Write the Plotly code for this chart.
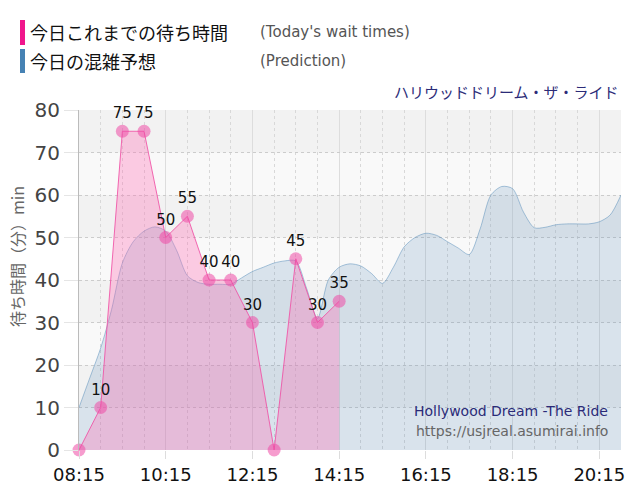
import plotly.graph_objects as go

DAY = "2024-01-01 "

# Actual wait times (every 30 min)
actual_times = ["08:15", "08:45", "09:15", "09:45", "10:15", "10:45", "11:15",
                "11:45", "12:15", "12:45", "13:15", "13:45", "14:15"]
actual_values = [0, 10, 75, 75, 50, 55, 40, 40, 30, 0, 45, 30, 35]

# Prediction (every 15 min)
pred_times = ["08:15", "08:30", "08:45", "09:00", "09:15", "09:30", "09:45", "10:00",
              "10:15", "10:30", "10:45", "11:00", "11:15", "11:30", "11:45", "12:00",
              "12:15", "12:30", "12:45", "13:00", "13:15", "13:30", "13:45", "14:00",
              "14:15", "14:30", "14:45", "15:00", "15:15", "15:30", "15:45", "16:00",
              "16:15", "16:30", "16:45", "17:00", "17:15", "17:30", "17:45", "18:00",
              "18:15", "18:30", "18:45", "19:00", "19:15", "19:30", "19:45", "20:00",
              "20:15", "20:30", "20:45"]
pred_values = [10, 17, 24, 33, 44, 49, 51.5, 52.5,
               51.5, 47, 41, 39.4, 39, 39, 39, 40.5,
               42, 43, 44, 44.5, 44.5, 38, 31, 40,
               43, 43.8, 43.3, 41.5, 39.2, 43, 47.8, 50,
               51, 50.5, 49, 47.5, 46, 52, 60, 62,
               61.5, 56, 52.3, 52.4, 53, 53.2, 53.2, 53.2,
               53.7, 55.3, 60]

x_tick_labels = ["08:15", "10:15", "12:15", "14:15", "16:15", "18:15", "20:15"]
y_ticks = [0, 10, 20, 30, 40, 50, 60, 70, 80]

legend_jp = ["今日これまでの待ち時間", "今日の混雑予想"]
legend_en = ["(Today's wait times)", "(Prediction)"]
title_text = "ハリウッドドリーム・ザ・ライド"
watermark = ["Hollywood Dream -The Ride", "https://usjreal.asumirai.info"]
y_title = "待ち時間（分）min"

JP = "Noto Sans CJK JP"
LAT = "DejaVu Sans"

# plot area in pixels
L, R, T, B = 79, 621, 110, 450
def px(x):
    return (x - L) / (R - L)
def py(y):
    return (B - y) / (B - T)

fig = go.Figure()

fig.add_trace(go.Scatter(
    x=[DAY + t for t in pred_times], y=pred_values,
    mode="lines", line=dict(color="rgba(70,130,180,0.45)", width=1, shape="spline", smoothing=0.8),
    fill="tozeroy", fillcolor="rgba(70,130,180,0.18)", hoverinfo="skip", showlegend=False))

fig.add_trace(go.Scatter(
    x=[DAY + t for t in actual_times], y=actual_values,
    mode="lines+markers+text", text=[str(v) if v > 0 else "" for v in actual_values],
    textposition="top center", textfont=dict(family=LAT, size=15, color="#111"),
    line=dict(color="rgba(240,80,165,0.85)", width=1),
    marker=dict(size=13, color="rgba(238,75,165,0.55)"),
    fill="tozeroy", fillcolor="rgba(255,105,180,0.33)", cliponaxis=False, showlegend=False))

shapes = []
# alternating horizontal bands
for lo in [10, 30, 50, 70]:
    shapes.append(dict(type="rect", xref="paper", yref="y", x0=0, x1=1, y0=lo, y1=lo + 10,
                       fillcolor="#f2f2f2", line=dict(width=0), layer="below"))
# legend bars
shapes.append(dict(type="rect", xref="paper", yref="paper", x0=px(20), x1=px(25), y0=py(45), y1=py(20),
                   fillcolor="#f0168c", line=dict(width=0)))
shapes.append(dict(type="rect", xref="paper", yref="paper", x0=px(20), x1=px(25), y0=py(73), y1=py(49),
                   fillcolor="#4682b4", line=dict(width=0)))

annotations = []
for i, (jp, en) in enumerate(zip(legend_jp, legend_en)):
    yc = 32 + i * 29
    annotations.append(dict(text=jp, xref="paper", yref="paper", x=px(28), y=py(yc),
                            xanchor="left", yanchor="middle", showarrow=False,
                            font=dict(family=JP, size=18, color="#111")))
    annotations.append(dict(text=en, xref="paper", yref="paper", x=px(258), y=py(yc),
                            xanchor="left", yanchor="middle", showarrow=False,
                            font=dict(family=LAT, size=15, color="#555")))
annotations.append(dict(text=title_text, xref="paper", yref="paper", x=px(621), y=py(91),
                        xanchor="right", yanchor="middle", showarrow=False,
                        font=dict(family=JP, size=15, color="#2b2b78")))
annotations.append(dict(text=watermark[0], xref="paper", yref="paper", x=px(610), y=py(411),
                        xanchor="right", yanchor="middle", showarrow=False,
                        font=dict(family=LAT, size=14, color="#2b2b78")))
annotations.append(dict(text=watermark[1], xref="paper", yref="paper", x=px(610), y=py(431),
                        xanchor="right", yanchor="middle", showarrow=False,
                        font=dict(family=LAT, size=14, color="#666")))
annotations.append(dict(text=y_title, xref="paper", yref="paper", x=px(17), y=py(257),
                        xanchor="center", yanchor="middle", showarrow=False, textangle=-90,
                        font=dict(family=JP, size=16, color="#666")))

fig.update_layout(
    width=640, height=500,
    margin=dict(l=L, r=640 - R, t=T, b=500 - B),
    paper_bgcolor="white", plot_bgcolor="#f9f9f9",
    shapes=shapes, annotations=annotations,
    xaxis=dict(type="date", range=[DAY + "08:15", DAY + "20:45"],
               tickvals=[DAY + t for t in x_tick_labels], ticktext=x_tick_labels,
               tickfont=dict(family=LAT, size=18, color="#111"),
               showgrid=True, gridcolor="#dddddd", gridwidth=1,
               ticks="outside", ticklen=8, tickcolor="#dddddd",
               minor=dict(dtick=30 * 60 * 1000, tick0=DAY + "08:15", showgrid=True,
                          griddash="3px,3px", gridcolor="#d8d8d8", gridwidth=1),
               showline=False, zeroline=False, fixedrange=True),
    yaxis=dict(range=[0, 80], tickvals=y_ticks,
               tickfont=dict(family=LAT, size=20, color="#444"),
               showgrid=True, gridcolor="#cccccc", griddash="dot", gridwidth=1,
               ticks="outside", ticklen=14, tickcolor="#e5e5e5",
               showline=True, linecolor="#bbbbbb", linewidth=1,
               zeroline=False, fixedrange=True),
)

fig.write_html("out.html")
